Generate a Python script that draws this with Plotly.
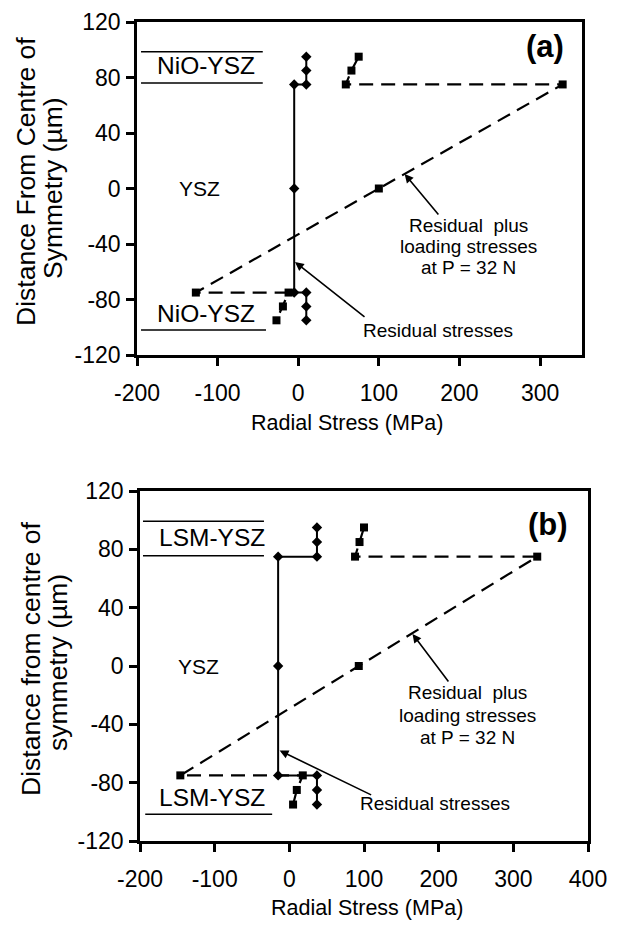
import plotly.graph_objects as go

# ---------------- data ----------------
# Panel (a): NiO-YSZ / YSZ / NiO-YSZ
a_dist = [95, 85, 75, 75, 0, -75, -75, -85, -95]
a_residual = [10, 10, 10, -5, -5, -5, 10, 10, 10]
a_total = [75, 66, 59, 328, 100, -127, -12, -19, -27]

# Panel (b): LSM-YSZ / YSZ / LSM-YSZ
b_dist = [95, 85, 75, 75, 0, -75, -75, -85, -95]
b_residual = [37, 37, 37, -15, -15, -15, 37, 37, 37]
b_total = [100, 94, 88, 332, 93, -146, 18, 10, 5]

y_ticks = [-120, -80, -40, 0, 40, 80, 120]
a_x_ticks = [-200, -100, 0, 100, 200, 300]
b_x_ticks = [-200, -100, 0, 100, 200, 300, 400]

FONT = "Arial, Liberation Sans, sans-serif"
PAGE_W, PAGE_H = 622, 928
OFF = 8  # default body margin of the html page
W, H = PAGE_W - OFF, PAGE_H - OFF

fig = go.Figure()

def add_panel(xs_res, xs_tot, ys, xa, ya):
    fig.add_trace(go.Scatter(
        x=xs_res, y=ys, xaxis=xa, yaxis=ya, mode="lines+markers",
        line=dict(color="black", width=2),
        marker=dict(symbol="diamond", size=8, color="black"),
        showlegend=False, hoverinfo="skip"))
    fig.add_trace(go.Scatter(
        x=xs_tot, y=ys, xaxis=xa, yaxis=ya, mode="lines+markers",
        line=dict(color="black", width=2.2, dash="14px,8px"),
        marker=dict(symbol="square", size=8, color="black"),
        showlegend=False, hoverinfo="skip"))

add_panel(a_residual, a_total, a_dist, "x", "y")
add_panel(b_residual, b_total, b_dist, "x2", "y2")

def px_x(p):
    return (p - OFF) / W

def px_y(p):
    return 1 - (p - OFF) / H

def labels(vals):
    return [str(v) for v in vals]

axis_common = dict(
    showgrid=False, zeroline=False, showline=True, linecolor="black",
    linewidth=2.5, mirror=True, ticks="outside", tickcolor="black",
    tickwidth=2.5, ticklen=8, automargin=False,
    tickfont=dict(family=FONT, size=23, color="black"),
)

fig.update_layout(
    width=W, height=H, margin=dict(l=0, r=0, t=0, b=0),
    paper_bgcolor="white", plot_bgcolor="white",
    font=dict(family=FONT, color="black"),
    xaxis=dict(axis_common, domain=[px_x(137), px_x(582)], range=[-200, 352],
               tickvals=a_x_ticks, ticktext=labels(a_x_ticks), anchor="y",
               ticklabelstandoff=8),
    yaxis=dict(axis_common, domain=[px_y(355), px_y(22)], range=[-120, 120],
               tickvals=y_ticks, ticktext=labels(y_ticks), anchor="x",
               ticklabelstandoff=1),
    xaxis2=dict(axis_common, domain=[px_x(140), px_x(588)], range=[-200, 400],
                tickvals=b_x_ticks, ticktext=labels(b_x_ticks), anchor="y2",
                ticklabelstandoff=8),
    yaxis2=dict(axis_common, domain=[px_y(841), px_y(491)], range=[-120, 120],
                tickvals=y_ticks, ticktext=labels(y_ticks), anchor="x2",
                ticklabelstandoff=1),
)

ann = []
def txt(x, y, s, xref, yref, size=20, bold=False, xanchor="center", angle=0):
    ann.append(dict(x=x, y=y, xref=xref, yref=yref, text=("<b>%s</b>" % s) if bold else s,
                    showarrow=False, font=dict(family=FONT, size=size, color="black"),
                    xanchor=xanchor, yanchor="middle", textangle=angle))

def arrow(x, y, ax, ay, xref, yref):
    ann.append(dict(x=x, y=y, xref=xref, yref=yref, text="", showarrow=True,
                    ax=ax, ay=ay, arrowhead=2, arrowsize=1.1, arrowwidth=1.6,
                    arrowcolor="black"))

# Axis titles
txt(px_x(26), px_y(182), "Distance From Centre of", "paper", "paper", size=26.5, angle=-90)
txt(px_x(53), px_y(188), "Symmetry (µm)", "paper", "paper", size=26.5, angle=-90)
txt(px_x(347), px_y(423), "Radial Stress (MPa)", "paper", "paper", size=21.5)

txt(px_x(31), px_y(659), "Distance from centre of", "paper", "paper", size=26.5, angle=-90)
txt(px_x(58), px_y(663), "symmetry (µm)", "paper", "paper", size=26.5, angle=-90)
txt(px_x(367), px_y(908), "Radial Stress (MPa)", "paper", "paper", size=21.5)

# Panel (a) labels
txt(306, 102, "(a)", "x", "y", size=31, bold=True)
txt(-122, 0, "YSZ", "x", "y", size=21)
txt(-114, 89, "NiO-YSZ", "x", "y", size=24.5)
txt(-114, -90, "NiO-YSZ", "x", "y", size=24.5)
txt(211, -27, "Residual  plus", "x", "y", size=19)
txt(211, -42, "loading stresses", "x", "y", size=19)
txt(211, -57, "at P = 32 N", "x", "y", size=19)
txt(173, -102, "Residual stresses", "x", "y", size=19)
arrow(132, 10.5, 35, 42, "x", "y")
arrow(-4, -53, 71, 56, "x", "y")

# Panel (b) labels
txt(346, 97, "(b)", "x2", "y2", size=31, bold=True)
txt(-122, 0, "YSZ", "x2", "y2", size=21)
txt(-104, 88, "LSM-YSZ", "x2", "y2", size=24.5)
txt(-104, -90.5, "LSM-YSZ", "x2", "y2", size=24.5)
txt(239, -18, "Residual  plus", "x2", "y2", size=19)
txt(239, -34, "loading stresses", "x2", "y2", size=19)
txt(239, -49, "at P = 32 N", "x2", "y2", size=19)
txt(195, -94, "Residual stresses", "x2", "y2", size=19)
arrow(165, 22, 37, 49, "x2", "y2")
arrow(-13, -58, 93, 45, "x2", "y2")

fig.update_layout(annotations=ann)

# thin rule lines around the layer labels
shapes = []
def hline(x0, x1, y, xref, yref):
    shapes.append(dict(type="line", x0=x0, x1=x1, y0=y, y1=y, xref=xref, yref=yref,
                       line=dict(color="black", width=1.5)))

hline(-195, -44, 98.5, "x", "y")
hline(-195, -44, 76, "x", "y")
hline(-195, -40, -102, "x", "y")
hline(-196, -34, 99.3, "x2", "y2")
hline(-196, -34, 75.6, "x2", "y2")
hline(-193, -23, -101.7, "x2", "y2")
fig.update_layout(shapes=shapes)

fig.write_html("out.html")
